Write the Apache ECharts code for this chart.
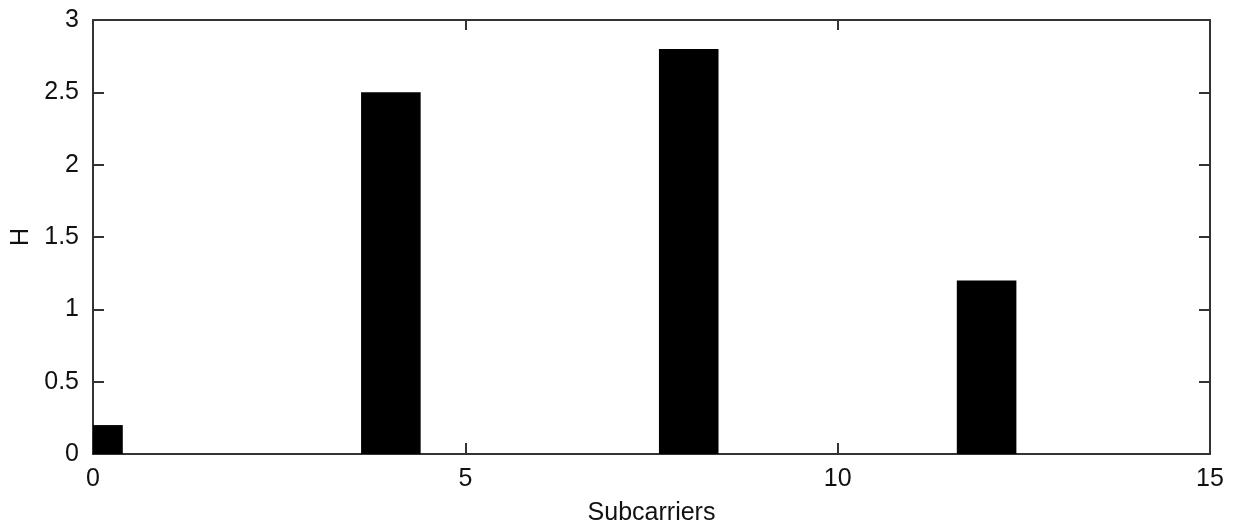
<!DOCTYPE html>
<html>
<head>
<meta charset="utf-8">
<script src="https://cdn.jsdelivr.net/npm/echarts@6/dist/echarts.min.js"></script>
<style>html,body{margin:0;padding:0;background:#fff;}#c{width:1236px;height:525px;}</style>
</head>
<body>
<div id="c"></div>
<script>
const subcarriers = [0, 4, 8, 12];
const hValues = [0.2, 2.5, 2.8, 1.2];
const xTicks = [0, 5, 10, 15];
const yTicks = [0, 0.5, 1, 1.5, 2, 2.5, 3];
const barHalfWidth = 0.4; // in x units

const font = 'Liberation Sans, Arial, sans-serif';
const lineCol = '#333';
const chart = echarts.init(document.getElementById('c'), null, {renderer: 'canvas'});
const barData = subcarriers.map((x, i) => [x, hValues[i]]);

function fmt(v) { return String(v); }

function renderBar(params, api) {
  const x = api.value(0), y = api.value(1);
  const p1 = api.coord([x - barHalfWidth, y]);
  const p2 = api.coord([x + barHalfWidth, 0]);
  const cs = params.coordSys;
  const shape = echarts.graphic.clipRectByRect(
    {x: p1[0], y: p1[1], width: p2[0] - p1[0], height: p2[1] - p1[1]},
    {x: cs.x, y: cs.y, width: cs.width, height: cs.height}
  );
  return shape && {type: 'rect', shape: shape, style: {fill: '#000'}};
}

const axisCommon = {
  axisLine: {show: true, onZero: false, lineStyle: {color: lineCol, width: 2}},
  splitLine: {show: false}
};

chart.setOption({
  animation: false,
  backgroundColor: '#fff',
  grid: {left: 93, right: 26, top: 20, bottom: 71, containLabel: false, outerBoundsMode: 'none'},
  xAxis: [Object.assign({
    type: 'value', min: xTicks[0], max: xTicks[xTicks.length - 1], interval: 5,
    position: 'bottom',
    name: 'Subcarriers', nameLocation: 'middle', nameGap: 47,
    nameTextStyle: {fontFamily: font, fontSize: 25, color: '#111'},
    axisTick: {show: true, inside: true, length: 11, lineStyle: {color: lineCol, width: 2}},
    axisLabel: {fontFamily: font, fontSize: 25, color: '#111', margin: 13, formatter: fmt}
  }, axisCommon), Object.assign({
    type: 'value', min: xTicks[0], max: xTicks[xTicks.length - 1], interval: 5,
    position: 'top',
    axisTick: {show: true, inside: true, length: 10, lineStyle: {color: lineCol, width: 2}},
    axisLabel: {show: false}
  }, axisCommon)],
  yAxis: [Object.assign({
    type: 'value', min: yTicks[0], max: yTicks[yTicks.length - 1], interval: 0.5,
    position: 'left',
    name: 'H', nameLocation: 'middle', nameGap: 59, nameRotate: 90,
    nameTextStyle: {fontFamily: font, fontSize: 25, color: '#111'},
    axisTick: {show: true, inside: true, length: 11, lineStyle: {color: lineCol, width: 2}},
    axisLabel: {fontFamily: font, fontSize: 25, color: '#111', margin: 14, formatter: fmt}
  }, axisCommon), Object.assign({
    type: 'value', min: yTicks[0], max: yTicks[yTicks.length - 1], interval: 0.5,
    position: 'right',
    axisTick: {show: true, inside: true, length: 11, lineStyle: {color: lineCol, width: 2}},
    axisLabel: {show: false}
  }, axisCommon)],
  series: [{
    type: 'custom',
    xAxisIndex: 0, yAxisIndex: 0,
    data: barData,
    encode: {x: 0, y: 1},
    renderItem: renderBar,
    z: 1
  }]
});
</script>
</body>
</html>
